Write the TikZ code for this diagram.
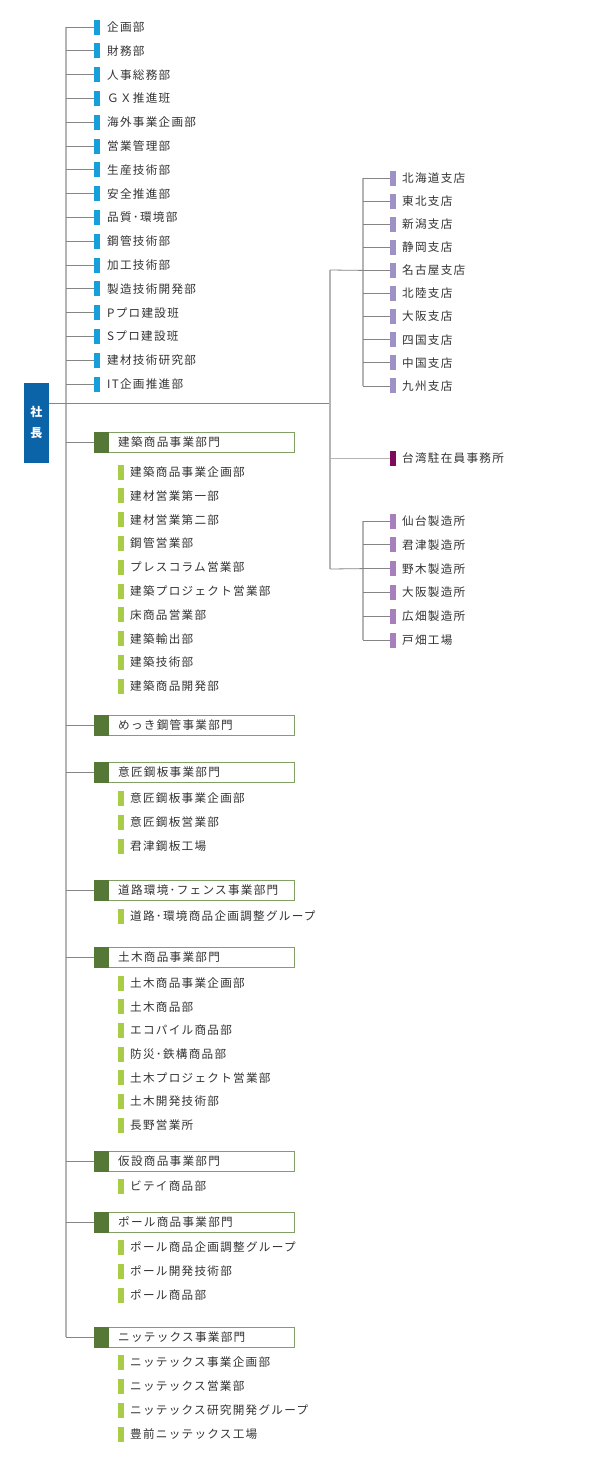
\documentclass[tikz,border=0pt]{standalone}
\usepackage{fontspec}
\newfontfamily\jp[LetterSpace=11]{Noto Sans CJK JP}
\definecolor{txt}{HTML}{333333}
\definecolor{pres}{HTML}{0B63A8}
\definecolor{staffc}{HTML}{16A0DB}
\definecolor{dgreen}{HTML}{557837}
\definecolor{gborder}{HTML}{82A066}
\definecolor{lgreen}{HTML}{A8CC46}
\definecolor{lav}{HTML}{9E91C6}
\definecolor{dpurp}{HTML}{7E0A5C}
\definecolor{orch}{HTML}{A87FBD}
\definecolor{lgray}{HTML}{B4B4B4}
\definecolor{dgray}{HTML}{858585}
\newcommand\mkdiv[3]{%
  \node[divbox] (#1) at (194,#2) {};
  \node[divsq] (#1sq) at (101.5,#2) {};
  \node[lbl] (#1l) at (118,#2) {#3};
  \coordinate (#1t) at (66,#2);
  \draw[twig] (#1t) -- (#1sq.west);
}
\newcommand\mksub[3]{%
  \node[mk=lgreen] (#1) at (121,#2) {};
  \node[lbl] (#1l) at (130,#2) {#3};
}
\begin{document}
\begin{tikzpicture}[x=1pt,y=-1pt,
  lbl/.style={anchor=west,inner sep=0pt,font=\jp\fontsize{11.6}{12}\selectfont,text=txt},
  mk/.style={rectangle,inner sep=0pt,minimum width=6pt,minimum height=15pt,fill=#1},
  trunk/.style={draw=lgray,line width=1.6pt},
  twig/.style={draw=dgray,line width=0.8pt},
  divbox/.style={rectangle,draw=gborder,line width=1pt,fill=white,inner sep=0pt,minimum width=200pt,minimum height=20pt},
  divsq/.style={rectangle,fill=dgreen,inner sep=0pt,minimum width=15pt,minimum height=21pt},
]
\useasboundingbox[fill=white] (0,0) rectangle (595,1460);

% president
\node[fill=pres,minimum width=25pt,minimum height=80pt,inner sep=0pt,text=white,align=center,
  font=\jp\bfseries\fontsize{12}{21}\selectfont] (pres) at (36.5,422.5) {社\\長};

% trunk
\coordinate (trunkTop) at (66,27);
\coordinate (trunkBot) at (66,1337);
\draw[trunk] (trunkTop) -- (trunkBot);

% staff departments
\foreach \t [count=\i] in {企画部,財務部,人事総務部,ＧＸ推進班,海外事業企画部,営業管理部,生産技術部,安全推進部,品質･環境部,鋼管技術部,加工技術部,製造技術開発部,Pプロ建設班,Sプロ建設班,建材技術研究部,IT企画推進部}{
  \pgfmathsetmacro\yy{27+(\i-1)*23.8}
  \node[mk=staffc] (s\i) at (97,\yy) {};
  \node[lbl] (st\i) at (107,\yy) {\t};
  \coordinate (ts\i) at (66,\yy);
  \draw[twig] (ts\i) -- (s\i.west);
}

% right side
\coordinate (rj) at (330,403);
\coordinate (rtop) at (330,270);
\coordinate (rbot) at (330,569);
\draw[twig] (pres.east |- rj) -- (rj);
\draw[draw=lgray,line width=1.2pt] (rtop) -- (rbot);

% branches
\coordinate (bTop) at (363,178);
\coordinate (bBot) at (363,386);
\draw[draw=lgray,line width=1.2pt] (bTop) -- (bBot);
\foreach \t [count=\i] in {北海道支店,東北支店,新潟支店,静岡支店,名古屋支店,北陸支店,大阪支店,四国支店,中国支店,九州支店}{
  \pgfmathsetmacro\yy{178+(\i-1)*23.1}
  \node[mk=lav] (b\i) at (393,\yy) {};
  \node[lbl] (bt\i) at (402,\yy) {\t};
  \coordinate (tb\i) at (363,\yy);
  \draw[twig] (tb\i) -- (b\i.west);
}
\draw[twig] (rtop) -- (tb5);

% Taiwan
\node[mk=dpurp] (tw) at (393,458) {};
\node[lbl] (twl) at (402,458) {台湾駐在員事務所};
\coordinate (twj) at (330,458);
\draw[draw=lgray,line width=0.8pt] (twj) -- (tw.west);

% factories
\coordinate (fTop) at (363,521);
\coordinate (fBot) at (363,640);
\draw[draw=lgray,line width=1.2pt] (fTop) -- (fBot);
\foreach \t [count=\i] in {仙台製造所,君津製造所,野木製造所,大阪製造所,広畑製造所,戸畑工場}{
  \pgfmathsetmacro\yy{521+(\i-1)*23.8}
  \node[mk=orch] (f\i) at (393,\yy) {};
  \node[lbl] (ft\i) at (402,\yy) {\t};
  \coordinate (tf\i) at (363,\yy);
  \draw[twig] (tf\i) -- (f\i.west);
}
\draw[twig] (rbot) -- (tf3);

% divisions
\mkdiv{d1}{442}{建築商品事業部門}
\foreach \t [count=\i] in {建築商品事業企画部,建材営業第一部,建材営業第二部,鋼管営業部,プレスコラム営業部,建築プロジェクト営業部,床商品営業部,建築輸出部,建築技術部,建築商品開発部}{
  \pgfmathsetmacro\yy{472+(\i-1)*23.8}
  \mksub{da\i}{\yy}{\t}
}
\mkdiv{d2}{725}{めっき鋼管事業部門}
\mkdiv{d3}{772}{意匠鋼板事業部門}
\mksub{db1}{798}{意匠鋼板事業企画部}
\mksub{db2}{822}{意匠鋼板営業部}
\mksub{db3}{846}{君津鋼板工場}
\mkdiv{d4}{890}{道路環境･フェンス事業部門}
\mksub{dc1}{916}{道路･環境商品企画調整グループ}
\mkdiv{d5}{957}{土木商品事業部門}
\foreach \t [count=\i] in {土木商品事業企画部,土木商品部,エコパイル商品部,防災･鉄構商品部,土木プロジェクト営業部,土木開発技術部,長野営業所}{
  \pgfmathsetmacro\yy{983+(\i-1)*23.67}
  \mksub{dd\i}{\yy}{\t}
}
\mkdiv{d6}{1161}{仮設商品事業部門}
\mksub{de1}{1186}{ビテイ商品部}
\mkdiv{d7}{1222}{ポール商品事業部門}
\mksub{df1}{1247}{ポール商品企画調整グループ}
\mksub{df2}{1271}{ポール開発技術部}
\mksub{df3}{1295}{ポール商品部}
\mkdiv{d8}{1337}{ニッテックス事業部門}
\mksub{dg1}{1362}{ニッテックス事業企画部}
\mksub{dg2}{1386}{ニッテックス営業部}
\mksub{dg3}{1410}{ニッテックス研究開発グループ}
\mksub{dg4}{1434}{豊前ニッテックス工場}
\end{tikzpicture}
\end{document}
